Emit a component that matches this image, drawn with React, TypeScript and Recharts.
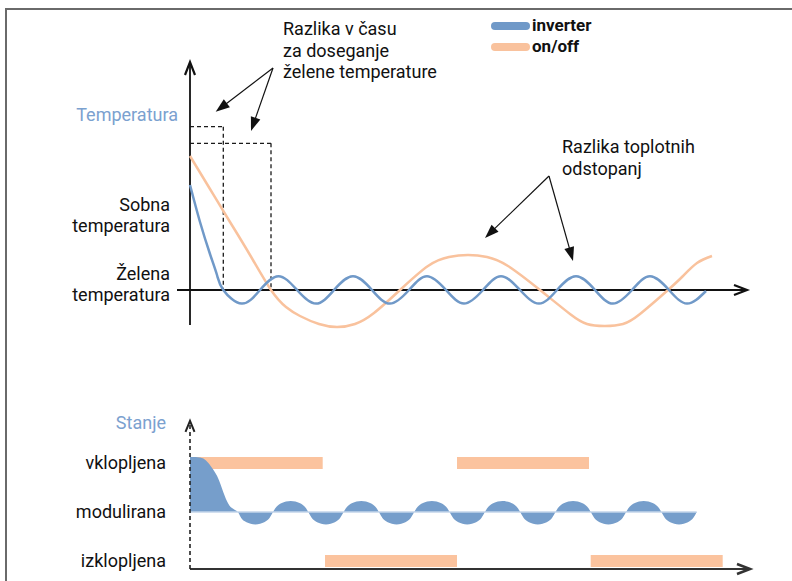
import React from 'react';
import { LineChart, ComposedChart, Line, Area, XAxis, YAxis, ReferenceLine, Legend } from 'recharts';

const FONT = 'Roboto, "Noto Sans", sans-serif';
const BLUE = '#7099c8';
const BLUE_FILL = '#769ecb';
const BLUE_TEXT = '#7ba1cf';
const ORANGE = '#f9c29d';
const BAR_ORANGE = '#fbc39e';
const INK = '#111111';
const FS = 18;
const LH = 21.5;

type Pair = [number, number];

// ---- top chart: temperature deviation from the desired temperature over time ----
const inverterTemp: Pair[] = [
  [0, 10.5], [1.0, 6.8], [2.0, 3.6], [2.7, 1.5], [3.33, 0], [5.17, -1.36], [7.0, 0],
  [8.85, 1.38], [10.7, 0], [12.6, -1.36], [14.4, 0], [16.3, 1.38], [18.2, 0],
  [20.0, -1.36], [21.9, 0], [23.7, 1.38], [25.6, 0], [27.4, -1.36], [29.3, 0],
  [31.1, 1.38], [33.0, 0], [34.9, -1.36], [36.7, 0], [38.6, 1.38], [40.5, 0],
  [42.3, -1.36], [44.2, 0], [46.0, 1.38], [47.9, 0], [49.7, -1.36], [51.6, -0.1],
];
const onOffTemp: Pair[] = [
  [0, 13.4], [2.0, 10.1], [4.0, 6.8], [6.0, 3.5], [8.1, 0], [9.6, -1.7], [11.0, -2.6], [12.9, -3.4],
  [14.7, -3.7], [16.5, -3.4], [18.4, -2.3], [21.0, 0], [23.8, 2.4], [25.9, 3.3],
  [27.8, 3.5], [29.7, 3.3], [31.8, 2.4], [35.0, 0], [38.0, -2.4], [39.7, -3.4],
  [41.5, -3.6], [43.3, -3.4], [45.0, -2.4], [47.8, 0], [49.3, 1.4], [50.7, 2.7], [52.2, 3.4],
];
// time needed to reach the desired temperature (inverter, on/off) and marker heights
const reachTimes = [3.33, 8.1];
const reachLevels = [16.33, 14.67];
const tempLabels = [
  { v: 17.5, lines: ['Temperatura'], accent: true },
  { v: 7.5, lines: ['Sobna', 'temperatura'], accent: false },
  { v: 0.6, lines: ['Želena', 'temperatura'], accent: false },
];
const tempArrows: { from: Pair; to: Pair }[] = [
  { from: [8.3, 22.2], to: [2.57, 17.83] },
  { from: [8.3, 22.2], to: [6.1, 15.9] },
  { from: [35.9, 11.4], to: [29.5, 5.2] },
  { from: [35.9, 11.4], to: [38.3, 2.9] },
];

// ---- bottom chart: compressor state ----
const modulation: Pair[] = [
  [0, 2.12], [1.0, 2.11], [1.6, 2.05], [2.1, 1.93], [2.7, 1.74], [3.2, 1.48], [3.7, 1.22], [4.2, 1.08], [4.77, 1.0],
  [5.12, 0.878], [5.65, 0.791], [6.54, 0.745], [7.42, 0.791], [7.95, 0.878], [8.3, 1],
  [8.65, 1.108], [9.18, 1.185], [10.07, 1.225], [10.95, 1.185], [11.48, 1.108], [11.83, 1],
  [12.18, 0.878], [12.71, 0.791], [13.6, 0.745], [14.48, 0.791], [15.01, 0.878], [15.36, 1],
  [15.71, 1.108], [16.24, 1.185], [17.13, 1.225], [18.01, 1.185], [18.54, 1.108], [18.89, 1],
  [19.24, 0.878], [19.77, 0.791], [20.66, 0.745], [21.54, 0.791], [22.07, 0.878], [22.42, 1],
  [22.77, 1.108], [23.3, 1.185], [24.19, 1.225], [25.07, 1.185], [25.61, 1.108], [25.96, 1],
  [26.31, 0.878], [26.84, 0.791], [27.72, 0.745], [28.61, 0.791], [29.14, 0.878], [29.49, 1],
  [29.84, 1.108], [30.37, 1.185], [31.25, 1.225], [32.14, 1.185], [32.67, 1.108], [33.02, 1],
  [33.37, 0.878], [33.9, 0.791], [34.78, 0.745], [35.67, 0.791], [36.2, 0.878], [36.55, 1],
  [36.9, 1.108], [37.43, 1.185], [38.31, 1.225], [39.2, 1.185], [39.73, 1.108], [40.08, 1],
  [40.43, 0.878], [40.96, 0.791], [41.84, 0.745], [42.73, 0.791], [43.26, 0.878], [43.61, 1],
  [43.96, 1.108], [44.49, 1.185], [45.37, 1.225], [46.26, 1.185], [46.79, 1.108], [47.14, 1],
  [47.49, 0.878], [48.02, 0.791], [48.9, 0.745], [49.79, 0.791], [50.32, 0.878], [50.67, 1],
];
const onIntervals: Pair[] = [[0, 13.27], [26.7, 39.9]];
const offIntervals: Pair[] = [[13.5, 26.7], [40.07, 53.27]];
const stateLabels = [
  { v: 2.82, text: 'Stanje', accent: true },
  { v: 2, text: 'vklopljena', accent: false },
  { v: 1, text: 'modulirana', accent: false },
  { v: 0, text: 'izklopljena', accent: false },
];

const rows = (pairs: Pair[]) => pairs.map(([t, v]) => ({ t, v }));

function makeArrow(head: 'open' | 'filled' | 'none', width: number, color: string, dash?: string) {
  return (p: any) => {
    const x1 = Number(p.x1), y1 = Number(p.y1), x2 = Number(p.x2), y2 = Number(p.y2);
    const dx = x2 - x1, dy = y2 - y1;
    const len = Math.hypot(dx, dy) || 1;
    const ux = dx / len, uy = dy / len;
    const L = head === 'open' ? 13 : 14;
    const W = 5;
    const bx = x2 - ux * L, by = y2 - uy * L;
    const nx = -uy, ny = ux;
    const a = `${bx + nx * W},${by + ny * W}`;
    const b = `${bx - nx * W},${by - ny * W}`;
    const ex = head === 'filled' ? bx + ux * 2 : x2;
    const ey = head === 'filled' ? by + uy * 2 : y2;
    return (
      <g>
        <line x1={x1} y1={y1} x2={ex} y2={ey} stroke={color} strokeWidth={width} strokeDasharray={dash} />
        {head === 'open' && (
          <polyline points={`${a} ${x2},${y2} ${b}`} fill="none" stroke={color} strokeWidth={width + 0.4} strokeLinejoin="miter" />
        )}
        {head === 'filled' && <polygon points={`${a} ${x2},${y2} ${b}`} fill={color} stroke="none" />}
      </g>
    );
  };
}

const axisArrow = makeArrow('open', 1.8, INK);
const bottomAxisArrow = makeArrow('open', 2.2, '#333333');
const dashedAxisArrow = (p: any) => {
  const x1 = Number(p.x1), y1 = Number(p.y1), x2 = Number(p.x2), y2 = Number(p.y2);
  return (
    <g>
      <line x1={x1} y1={y1} x2={x2} y2={y2 + 2} stroke="#222" strokeWidth={1.6} strokeDasharray="4 3" />
      <polyline points={`${x2 - 4.5},${y2 + 11} ${x2},${y2} ${x2 + 4.5},${y2 + 11}`} fill="none" stroke="#222" strokeWidth={2} />
    </g>
  );
};
const noteArrow = makeArrow('filled', 1.2, INK);
const dashedLine = makeArrow('none', 1.3, '#1a1a1a', '4 3');

const TempTick = (props: any) => {
  const { y, payload } = props;
  const lab = tempLabels.find((l) => Math.abs(l.v - payload.value) < 1e-6);
  if (!lab) return <g />;
  const n = lab.lines.length;
  const x = lab.accent ? 178 : 170;
  return (
    <g>
      {lab.lines.map((s, i) => (
        <text
          key={i}
          x={x}
          y={y + (i - (n - 1) / 2) * LH}
          dy="0.35em"
          textAnchor="end"
          fontFamily={FONT}
          fontSize={FS}
          fill={lab.accent ? BLUE_TEXT : INK}
        >
          {s}
        </text>
      ))}
    </g>
  );
};

const StateTick = (props: any) => {
  const { y, payload } = props;
  const lab = stateLabels.find((l) => Math.abs(l.v - payload.value) < 1e-6);
  if (!lab) return <g />;
  return (
    <text x={166} y={y} dy="0.35em" textAnchor="end" fontFamily={FONT} fontSize={FS} fill={lab.accent ? BLUE_TEXT : INK}>
      {lab.text}
    </text>
  );
};

const LegendContent = (props: any) => (
  <div style={{ fontFamily: FONT, fontWeight: 700, fontSize: 17, color: INK }}>
    {(props.payload || []).map((e: any) => (
      <div key={e.value} style={{ display: 'flex', alignItems: 'center', height: 21 }}>
        <span style={{ display: 'inline-block', width: 39, height: 8, borderRadius: 4, background: e.color, marginRight: 2 }} />
        <span style={{ lineHeight: '21px' }}>{e.value}</span>
      </div>
    ))}
  </div>
);

const Note = ({ x, y, lines }: { x: number; y: number; lines: string[] }) => (
  <g>
    {lines.map((s, i) => (
      <text key={i} x={x} y={y + i * LH} dy="0.35em" fontFamily={FONT} fontSize={FS} fill={INK}>
        {s}
      </text>
    ))}
  </g>
);

export default function App() {
  return (
    <div style={{ position: 'absolute', left: 0, top: 0, width: 792, height: 581, background: '#fff', overflow: 'hidden' }}>
      <div style={{ position: 'absolute', left: 0, top: 0 }}>
        <LineChart width={792} height={340} margin={{ top: 60, right: 42, bottom: 10, left: 0 }}>
          <XAxis type="number" dataKey="t" domain={[-1.3, 56]} allowDataOverflow hide />
          <YAxis
            type="number"
            domain={[-4, 23]}
            allowDataOverflow
            ticks={tempLabels.map((l) => l.v)}
            interval={0}
            axisLine={false}
            tickLine={false}
            width={177}
            tick={TempTick}
          />
          <ReferenceLine segment={[{ x: -1.3, y: 0 }, { x: 55.7, y: 0 }]} ifOverflow="visible" shape={axisArrow} />
          <ReferenceLine segment={[{ x: 0, y: -3.5 }, { x: 0, y: 22.8 }]} ifOverflow="visible" shape={axisArrow} />
          {reachTimes.map((t, i) => (
            <ReferenceLine key={`h${i}`} segment={[{ x: 0, y: reachLevels[i] }, { x: t, y: reachLevels[i] }]} ifOverflow="visible" shape={dashedLine} />
          ))}
          {reachTimes.map((t, i) => (
            <ReferenceLine key={`v${i}`} segment={[{ x: t, y: reachLevels[i] }, { x: t, y: 0 }]} ifOverflow="visible" shape={dashedLine} />
          ))}
          {tempArrows.map((a, i) => (
            <ReferenceLine key={`a${i}`} segment={[{ x: a.from[0], y: a.from[1] }, { x: a.to[0], y: a.to[1] }]} ifOverflow="visible" shape={noteArrow} />
          ))}
          <Line
            data={rows(onOffTemp)}
            dataKey="v"
            name="on/off"
            type="natural"
            stroke={ORANGE}
            strokeWidth={2.5}
            dot={false}
            isAnimationActive={false}
          />
          <Line
            data={rows(inverterTemp)}
            dataKey="v"
            name="inverter"
            type="natural"
            stroke={BLUE}
            strokeWidth={2.5}
            dot={false}
            isAnimationActive={false}
          />
          <Legend
            layout="vertical"
            align="center"
            verticalAlign="middle"
            payload={[
              { value: 'inverter', type: 'line', color: BLUE, id: 'inv' },
              { value: 'on/off', type: 'line', color: ORANGE, id: 'onoff' },
            ]}
            wrapperStyle={{ position: 'absolute', left: 491, top: 15, width: 160, height: 42 }}
            content={LegendContent}
          />
        </LineChart>
      </div>

      <div style={{ position: 'absolute', left: 0, top: 400 }}>
        <ComposedChart width={792} height={181} margin={{ top: 9.1, right: 42, bottom: 5.3, left: 0 }}>
          <XAxis type="number" dataKey="t" domain={[-1.3, 56]} allowDataOverflow hide />
          <YAxis
            type="number"
            domain={[-0.3, 3.1]}
            allowDataOverflow
            ticks={stateLabels.map((l) => l.v)}
            interval={0}
            axisLine={false}
            tickLine={false}
            width={177}
            tick={StateTick}
          />
          {onIntervals.map(([a, b], i) => (
            <Area
              key={`on${i}`}
              data={[{ t: a, v: 2.1225 }, { t: b, v: 2.1225 }]}
              dataKey="v"
              baseValue={1.8775}
              type="linear"
              fill={BAR_ORANGE}
              fillOpacity={1}
              stroke="none"
              legendType="none"
              isAnimationActive={false}
            />
          ))}
          {offIntervals.map(([a, b], i) => (
            <Area
              key={`off${i}`}
              data={[{ t: a, v: 0.1225 }, { t: b, v: 0.1225 }]}
              dataKey="v"
              baseValue={-0.1225}
              type="linear"
              fill={BAR_ORANGE}
              fillOpacity={1}
              stroke="none"
              legendType="none"
              isAnimationActive={false}
            />
          ))}
          <Area
            data={rows(modulation)}
            dataKey="v"
            baseValue={1}
            type="natural"
            fill={BLUE_FILL}
            fillOpacity={1}
            stroke="none"
            legendType="none"
            isAnimationActive={false}
          />
          <Line
            data={[{ t: 0, v: 1 }, { t: 50.67, v: 1 }]}
            dataKey="v"
            type="linear"
            stroke="#c3d4ea"
            strokeWidth={1.5}
            dot={false}
            legendType="none"
            isAnimationActive={false}
          />
          <ReferenceLine segment={[{ x: 0, y: -0.163 }, { x: 56, y: -0.163 }]} ifOverflow="visible" shape={bottomAxisArrow} />
          <ReferenceLine segment={[{ x: 0, y: -0.163 }, { x: 0, y: 2.86 }]} ifOverflow="visible" shape={dashedAxisArrow} />
        </ComposedChart>
      </div>

      <svg width={792} height={581} style={{ position: 'absolute', left: 0, top: 0, pointerEvents: 'none' }}>
        <line x1={5} y1={9} x2={792} y2={9} stroke="#6a6a6a" strokeWidth={2} />
        <line x1={6} y1={8} x2={6} y2={581} stroke="#6a6a6a" strokeWidth={2} />
        <Note x={283} y={29} lines={['Razlika v času', 'za doseganje', 'želene temperature']} />
        <Note x={562} y={147} lines={['Razlika toplotnih', 'odstopanj']} />
      </svg>
    </div>
  );
}
